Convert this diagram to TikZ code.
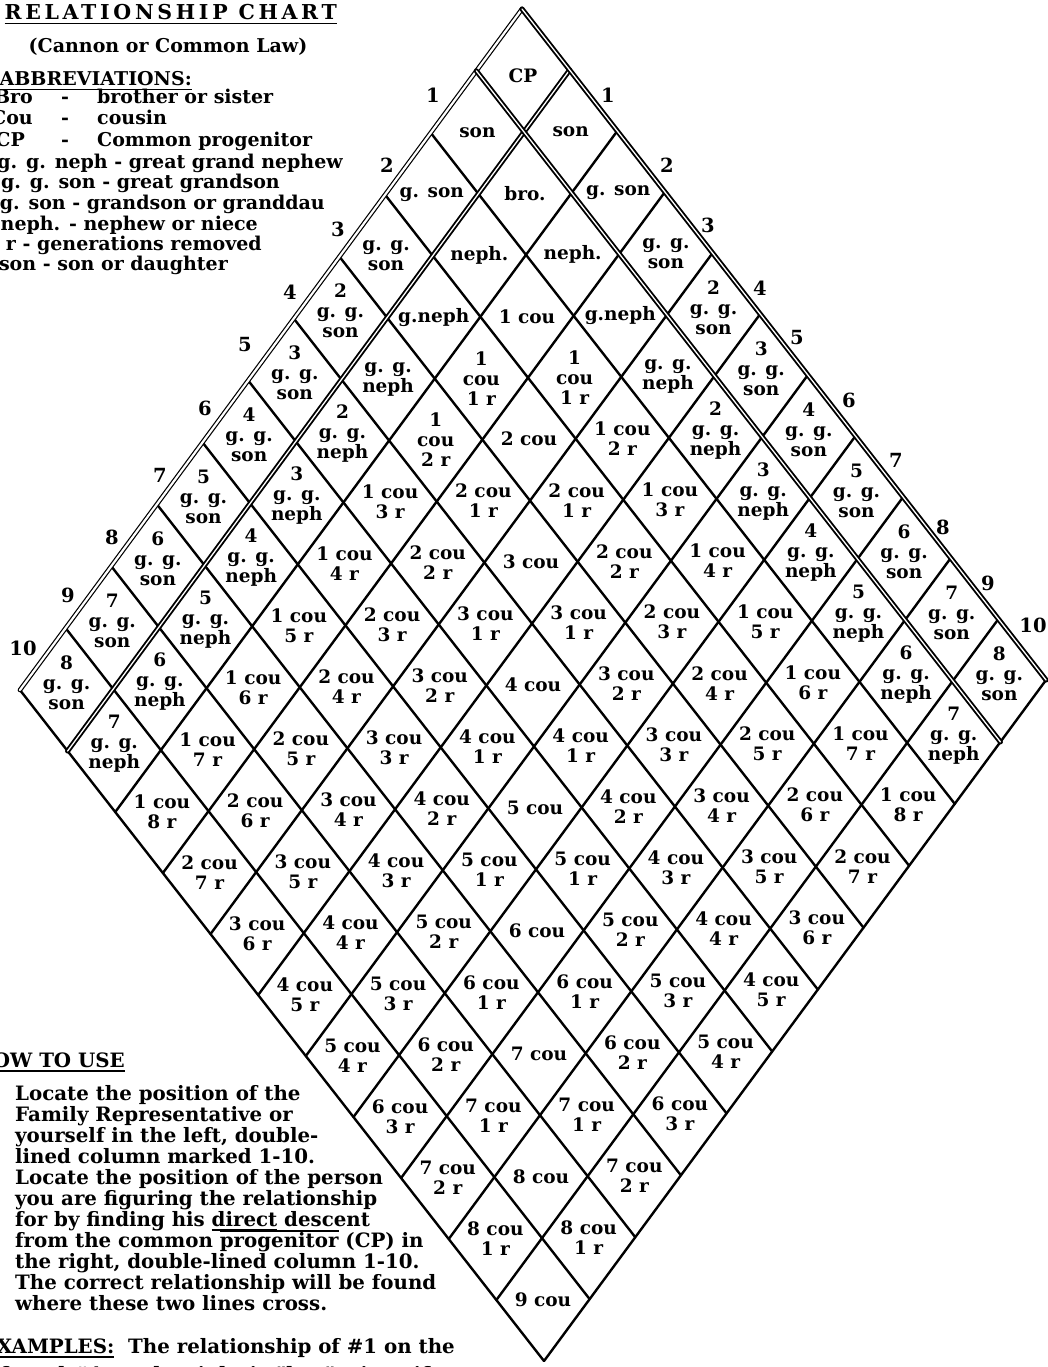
\documentclass[tikz,border=0pt]{standalone}
\usepackage{fontspec}
\setmainfont{DejaVu Serif}
\newcommand\cellfont{\fontsize{18.5}{20}\selectfont\bfseries}
\newcommand\numfont{\fontsize{19.5}{21}\selectfont\bfseries}
\newcommand\sidefont{\fontsize{19}{21}\selectfont\bfseries}
\newcommand\titlefont{\fontsize{20.5}{22}\selectfont\bfseries}
\newcommand\parfont{\fontsize{19.8}{21}\selectfont\bfseries}
\newsavebox\ulbox
\newcommand\ulw[1]{\sbox\ulbox{#1}\rlap{\rule[-4.5pt]{\wd\ulbox}{1.8pt}}\usebox\ulbox}
\newcommand\olw[1]{\sbox\ulbox{#1}\rlap{\rule[15.5pt]{\wd\ulbox}{1.6pt}}\usebox\ulbox}
\begin{document}
\begin{tikzpicture}[x=1pt,y=-1pt,
  grid/.style={line width=2.4pt,line cap=round},
  dbl/.style={double,line width=1.9pt,double distance=1.3pt,line cap=round},
  dblthin/.style={double,line width=1.2pt,double distance=2.2pt,line cap=round},
  cell/.style={font=\cellfont,align=center,inner sep=0pt},
  cellthree/.style={cell,yshift=7pt},
  lbl/.style={font=\numfont,inner sep=0pt},
  side/.style={font=\sidefont,inner sep=0pt},
  para/.style={font=\parfont,inner sep=0pt}]
\useasboundingbox (0,0) rectangle (1048,1367);
\foreach \i in {0,...,11}{\foreach \j in {0,...,11}{
  \coordinate (p-\i-\j) at ({522-45.64*\i+47.64*\j},{9+61.91*\i+61.0*\j});
  \coordinate (m-\i-\j) at ({522-45.64*(\i+0.5)+47.64*(\j+0.5)},{9+61.91*(\i+0.5)+61.0*(\j+0.5)});
}}
% grid lines
\foreach \k in {2,...,11}{
  \draw[grid] (p-0-\k) -- (p-11-\k);
  \draw[grid] (p-\k-0) -- (p-\k-11);
}
\draw[dblthin] (p-0-0) -- (p-11-0);
\draw[dbl] (p-0-1) -- (p-11-1);
\draw[dbl] (p-0-0) -- (p-0-11);
\draw[dbl] (p-1-0) -- (p-1-11);
% cells
\node[cell,yshift=-5pt] (c-0-0) at (m-0-0) {CP};
\node[cell] (c-0-1) at (m-0-1) {son};
\node[cell] (c-1-0) at (m-1-0) {son};
\node[cell] (c-0-2) at (m-0-2) {g. son};
\node[cell] (c-2-0) at (m-2-0) {g. son};
\node[cell] (c-0-3) at (m-0-3) {g. g.\\son};
\node[cell] (c-3-0) at (m-3-0) {g. g.\\son};
\foreach \k in {4,...,10}{
  \pgfmathtruncatemacro\n{\k-2}
  \node[cellthree] (c-0-\k) at (m-0-\k) {\n\\g. g.\\son};
  \node[cellthree] (c-\k-0) at (m-\k-0) {\n\\g. g.\\son};
}
\node[cell] (c-1-1) at (m-1-1) {bro.};
\node[cell] (c-1-2) at (m-1-2) {neph.};
\node[cell] (c-2-1) at (m-2-1) {neph.};
\node[cell] (c-1-3) at (m-1-3) {g.neph};
\node[cell] (c-3-1) at (m-3-1) {g.neph};
\node[cell] (c-1-4) at (m-1-4) {g. g.\\neph};
\node[cell] (c-4-1) at (m-4-1) {g. g.\\neph};
\foreach \k in {5,...,10}{
  \pgfmathtruncatemacro\n{\k-3}
  \node[cellthree] (c-1-\k) at (m-1-\k) {\n\\g. g.\\neph};
  \node[cellthree] (c-\k-1) at (m-\k-1) {\n\\g. g.\\neph};
}
\foreach \i in {2,...,10}{\foreach \j in {2,...,10}{
  \pgfmathtruncatemacro\dd{min(\i,\j)-1}
  \pgfmathtruncatemacro\rr{abs(\i-\j)}
  \pgfmathtruncatemacro\three{(\dd==1)*((\rr==1)+(\rr==2)*(\i>\j))}
  \ifnum\rr=0
    \node[cell] (c-\i-\j) at (m-\i-\j) {\dd\ cou};
  \else
    \ifnum\three=1
      \node[cell] (c-\i-\j) at (m-\i-\j) {\dd\\cou\\\rr\ r};
    \else
      \node[cell] (c-\i-\j) at (m-\i-\j) {\dd\ cou\\\rr\ r};
    \fi
  \fi
}}
% outside numbers
\foreach \t/\x/\y in {1/433/95,2/387/165,3/338/229,4/290/292,5/245/345,6/205/408,7/160/475,8/112/537,9/68/595,10/23/648}{
  \node[lbl] (ln-\t) at (\x,\y) {\t};
}
\foreach \t/\x/\y in {1/608/95,2/667/165,3/708/225,4/760/288,5/797/338,6/849/400,7/896/460,8/943/527,9/988/583,10/1033/625}{
  \node[lbl] (rn-\t) at (\x,\y) {\t};
}
% title block
\node[font=\titlefont,inner sep=0pt,anchor=base east] (title) at (337,20) {\ulw{\addfontfeature{LetterSpace=18}RELATIONSHIP CHART}};
\node[side,anchor=base] (law) at (168,53) {(Cannon or Common Law)};
\node[side,anchor=base east] (abbr) at (192,86) {\ulw{ABBREVIATIONS:}};
\node[side,anchor=base east] (a1) at (33,104) {Bro};
\node[side,anchor=base] (a1d) at (65,104) {-};
\node[side,anchor=base west] (a1t) at (97,104) {brother or sister};
\node[side,anchor=base east] (a2) at (33,125) {Cou};
\node[side,anchor=base] (a2d) at (65,125) {-};
\node[side,anchor=base west] (a2t) at (97,125) {cousin};
\node[side,anchor=base east] (a3) at (25,147) {CP};
\node[side,anchor=base] (a3d) at (65,147) {-};
\node[side,anchor=base west] (a3t) at (97,147) {Common progenitor};
\node[side,anchor=base east] (a4) at (343,168) {g. g. neph - great grand nephew};
\node[side,anchor=base east] (a5) at (280,189) {g. g. son - great grandson};
\node[side,anchor=base east] (a6) at (325,209) {g. son - grandson or granddau};
\node[side,anchor=base east] (a7) at (258,230) {neph. - nephew or niece};
\node[side,anchor=base east] (a8) at (262,250) {r - generations removed};
\node[side,anchor=base east] (a9) at (228,270) {son - son or daughter};
% how to use
\node[para,anchor=base east] (how) at (125,1067) {\ulw{HOW TO USE}};
\node[para,anchor=base west] (h1) at (15,1100) {Locate the position of the};
\node[para,anchor=base west] (h2) at (15,1121) {Family Representative or};
\node[para,anchor=base west] (h3) at (15,1142) {yourself in the left, double-};
\node[para,anchor=base west] (h4) at (15,1163) {lined column marked 1-10.};
\node[para,anchor=base west] (h5) at (15,1184) {Locate the position of the person};
\node[para,anchor=base west] (h6) at (15,1205) {you are figuring the relationship};
\node[para,anchor=base west] (h7) at (15,1226) {for by finding his \ulw{direct} descent};
\node[para,anchor=base west] (h8) at (15,1247) {from the common \olw{progenitor} (CP) in};
\node[para,anchor=base west] (h9) at (15,1268) {the right, double-lined column 1-10.};
\node[para,anchor=base west] (h10) at (15,1289) {The correct relationship will be found};
\node[para,anchor=base west] (h11) at (15,1310) {where these two lines cross.};
\node[para,anchor=base east] (ex1) at (455,1353) {\ulw{EXAMPLES:}\ \ The relationship of \#1 on the};
\node[para,anchor=base east] (ex2) at (430,1381) {left and \#1 on the right is "bro", since if};
\end{tikzpicture}
\end{document}
